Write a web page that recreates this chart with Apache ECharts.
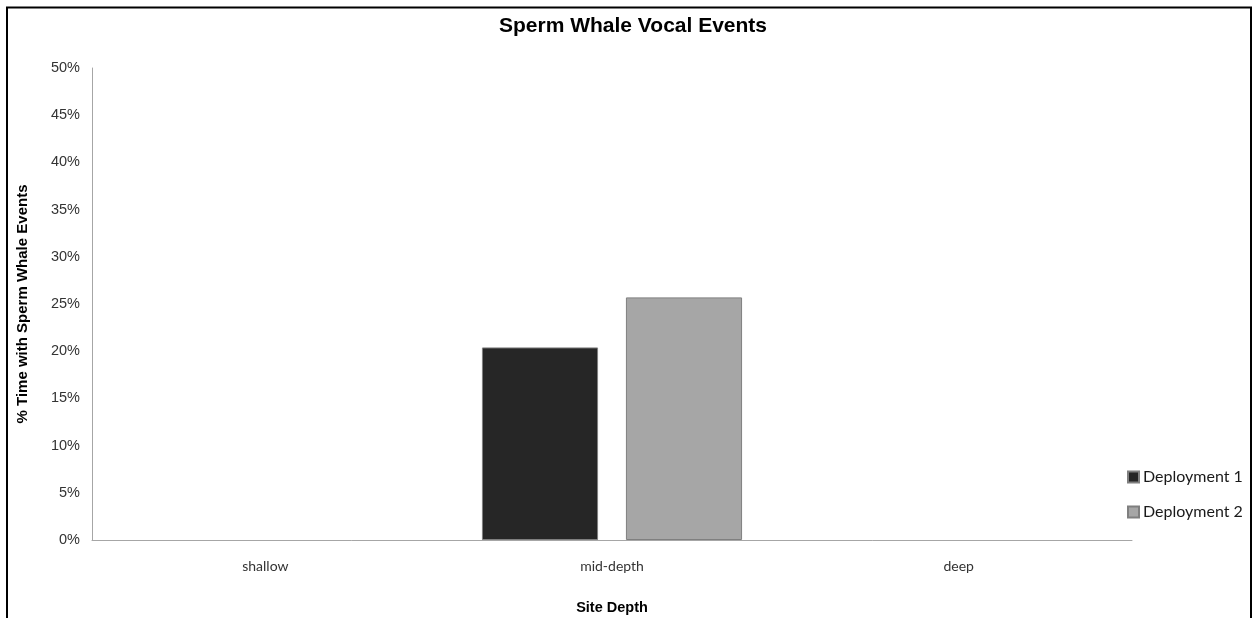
<!DOCTYPE html>
<html>
<head>
<meta charset="utf-8">
<title>Sperm Whale Vocal Events</title>
<script src="https://cdn.jsdelivr.net/npm/echarts@6/dist/echarts.min.js"></script>
<style>
	html, body { margin: 0; padding: 0; background: #fff; }
	#chart { width: 1257px; height: 618px; }
</style>
</head>
<body>
<div id="chart"></div>
<script>
	// data (shallow and deep have no bar)
	var categories = ["shallow", "mid-depth", "deep"];
	var deployment1 = [0, 20.4, 0];
	var deployment2 = [0, 25.7, 0];
	var yTicks = [0, 5, 10, 15, 20, 25, 30, 35, 40, 45, 50];

	// excel draws nothing for a zero bar
	function noZero(arr) {
		return arr.map(function (v) { return v === 0 ? "-" : v; });
	}

	var myChart = echarts.init(document.getElementById("chart"));

	var option = {
		animation: false,
		backgroundColor: "#fff",
		title: {
			text: "Sperm Whale Vocal Events",
			left: 494,
			top: 11,
			textStyle: {
				fontFamily: "Liberation Sans",
				fontSize: 21,
				fontWeight: "bold",
				color: "#000"
			}
		},
		legend: {
			orient: "vertical",
			left: 1122,
			top: 464,
			itemWidth: 11,
			itemHeight: 11,
			itemGap: 19,
			icon: "rect",
			textStyle: {
				fontFamily: "Lato",
				fontSize: 16,
				color: "#1a1a1a",
				padding: [0, 0, 0, -1]
			},
			data: ["Deployment 1", "Deployment 2"]
		},
		grid: {
			left: 92,
			right: 125,
			top: 68,
			bottom: 78,
			outerBoundsMode: "none",
			containLabel: false
		},
		xAxis: {
			type: "category",
			data: categories,
			name: "Site Depth",
			nameLocation: "middle",
			nameGap: 60,
			nameTextStyle: {
				fontFamily: "Liberation Sans",
				fontSize: 14.5,
				fontWeight: "bold",
				color: "#000"
			},
			axisLine: { lineStyle: { color: "#a6a6a6", width: 1 } },
			axisTick: { show: false },
			axisLabel: {
				margin: 19,
				fontFamily: "Lato",
				fontSize: 14,
				color: "#333"
			}
		},
		yAxis: {
			type: "value",
			min: yTicks[0],
			max: yTicks[yTicks.length - 1],
			interval: 5,
			name: "% Time with Sperm Whale Events",
			nameLocation: "middle",
			nameRotate: 90,
			nameGap: 62,
			nameTextStyle: {
				fontFamily: "Liberation Sans",
				fontSize: 15,
				fontWeight: "bold",
				color: "#000"
			},
			axisLine: { show: true, lineStyle: { color: "#a6a6a6", width: 1 } },
			axisTick: { show: false },
			splitLine: { show: false },
			axisLabel: {
				margin: 12,
				fontFamily: "Liberation Sans",
				fontSize: 14.5,
				color: "#333",
				formatter: "{value}%"
			}
		},
		series: [
			{
				name: "Deployment 1",
				type: "bar",
				data: noZero(deployment1),
				barWidth: "33.5%",
				barGap: "24%",
				itemStyle: { color: "#262626", borderColor: "#7f7f7f", borderWidth: 1 }
			},
			{
				name: "Deployment 2",
				type: "bar",
				data: noZero(deployment2),
				barWidth: "33.5%",
				itemStyle: { color: "#a6a6a6", borderColor: "#7f7f7f", borderWidth: 1 }
			}
		],
		graphic: [
			{
				type: "rect",
				silent: true,
				shape: { x: 7, y: 7.5, width: 1244, height: 640 },
				style: { fill: "none", stroke: "#000", lineWidth: 2 }
			}
		]
	};

	myChart.setOption(option);
</script>
</body>
</html>
